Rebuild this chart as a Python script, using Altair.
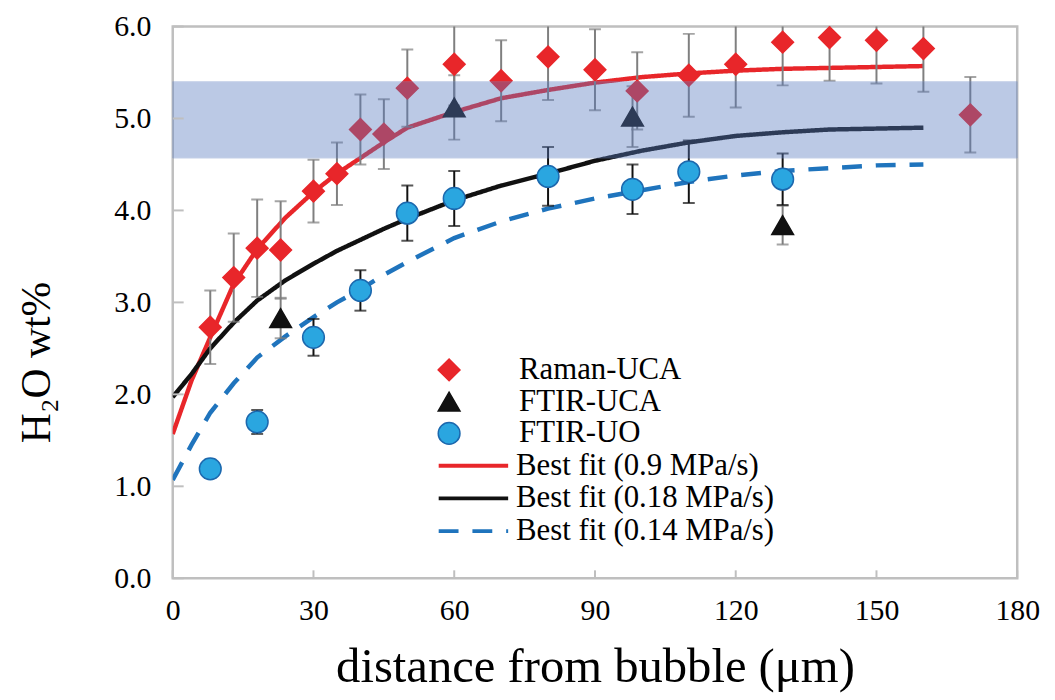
import altair as alt
import pandas as pd

# ---------------- data ----------------
raman_x = [8, 13, 18, 23, 30, 35, 40, 45, 50, 60, 70, 80, 90, 99, 110, 120, 130, 140, 150, 160, 170]
raman_y = [2.73, 3.27, 3.59, 3.57, 4.21, 4.40, 4.88, 4.83, 5.33, 5.59, 5.41, 5.67, 5.53, 5.30, 5.47, 5.59, 5.83, 5.88, 5.85, 5.76, 5.04]
raman_err = [0.40, 0.48, 0.53, 0.53, 0.34, 0.34, 0.38, 0.38, 0.42, 0.45, 0.44, 0.47, 0.44, 0.42, 0.45, 0.47, 0.47, 0.47, 0.47, 0.47, 0.41]

uca_x = [23, 60, 98, 130]
uca_y = [2.83, 5.12, 5.02, 3.84]
uca_err = [0.22, 0.35, 0.33, 0.21]

uo_x = [8, 18, 30, 40, 50, 60, 80, 98, 110, 130]
uo_y = [1.19, 1.70, 2.62, 3.13, 3.97, 4.13, 4.37, 4.23, 4.42, 4.34]
uo_err = [0.10, 0.13, 0.20, 0.22, 0.30, 0.30, 0.32, 0.27, 0.34, 0.28]

fit_x = [0, 4, 8, 13, 18, 24, 30, 35, 40, 45, 50, 60, 70, 80, 90, 100, 110, 120, 130, 140, 150, 160]
fit_red = [1.57, 2.15, 2.62, 3.20, 3.58, 3.92, 4.20, 4.40, 4.57, 4.74, 4.90, 5.07, 5.22, 5.31, 5.39, 5.45, 5.49, 5.52, 5.54, 5.55, 5.56, 5.57]
fit_black = [1.97, 2.22, 2.50, 2.78, 3.02, 3.24, 3.42, 3.56, 3.68, 3.80, 3.91, 4.11, 4.27, 4.40, 4.54, 4.65, 4.74, 4.81, 4.85, 4.88, 4.89, 4.90]
fit_blue = [1.07, 1.45, 1.80, 2.12, 2.40, 2.63, 2.84, 3.00, 3.14, 3.30, 3.44, 3.70, 3.88, 4.02, 4.13, 4.22, 4.31, 4.38, 4.43, 4.46, 4.49, 4.50]

band_lo = [4.57]
band_hi = [5.40]
band_x0 = [0]
band_x1 = [180]

pt_names = ["Raman-UCA", "FTIR-UCA", "FTIR-UO"]
fit_names = ["Best fit (0.9 MPa/s)", "Best fit (0.18 MPa/s)", "Best fit (0.14 MPa/s)"]

x_ticks = [0, 30, 60, 90, 120, 150, 180]
y_ticks = [0, 1, 2, 3, 4, 5, 6]

# ---------------- tables ----------------
pts = pd.concat([
    pd.DataFrame({"x": raman_x, "y": raman_y, "err": raman_err, "series": pt_names[0]}),
    pd.DataFrame({"x": uca_x, "y": uca_y, "err": uca_err, "series": pt_names[1]}),
    pd.DataFrame({"x": uo_x, "y": uo_y, "err": uo_err, "series": pt_names[2]}),
], ignore_index=True)
pts["lo"] = pts["y"] - pts["err"]
pts["hi"] = pts["y"] + pts["err"]
gray_err = pts[pts["series"] != "FTIR-UO"]
black_err = pts[pts["series"] == "FTIR-UO"]

fits = pd.concat([
    pd.DataFrame({"x": fit_x, "y": fit_red, "fit": fit_names[0]}),
    pd.DataFrame({"x": fit_x, "y": fit_black, "fit": fit_names[1]}),
    pd.DataFrame({"x": fit_x, "y": fit_blue, "fit": fit_names[2]}),
], ignore_index=True)

band = pd.DataFrame({"x": band_x0, "x2": band_x1, "y": band_lo, "y2": band_hi})
xt = pd.DataFrame({"x": x_ticks})
yt = pd.DataFrame({"y": y_ticks})

# ---------------- styling ----------------
FONT = "Liberation Serif"
W, H = 851, 556
GRID = "#bfbfbf"

x_scale = alt.Scale(domain=[0, 180], nice=False, zero=False)
y_scale = alt.Scale(domain=[0, 6], nice=False, zero=False)

x_axis = alt.Axis(values=x_ticks, format="d", title="distance from bubble (μm)",
                  labelFont=FONT, labelFontSize=30, labelColor="#000", labelPadding=18,
                  labelFlush=False, labelOverlap=False,
                  ticks=False, tickSize=0, domain=False, grid=False,
                  titleFont=FONT, titleFontSize=49, titleFontWeight="normal", titleColor="#000",
                  titleBaseline="alphabetic", titleY=104)
y_axis = alt.Axis(values=y_ticks, format=".1f", title="H₂O wt%",
                  labelFont=FONT, labelFontSize=30, labelColor="#000", labelPadding=22,
                  labelFlush=False, labelOverlap=False,
                  ticks=False, tickSize=0, domain=False, grid=False,
                  titleFont=FONT, titleFontSize=42, titleFontWeight="normal", titleColor="#000",
                  titleBaseline="alphabetic", titleX=-124, titleY=338, titleAngle=270)


def X(f):
    return alt.X(f"{f}:Q", scale=x_scale, axis=x_axis)


def Y(f):
    return alt.Y(f"{f}:Q", scale=y_scale, axis=y_axis)


pts_legend = alt.Legend(title=None, orient="none", legendX=263, legendY=330, direction="vertical",
                        clipHeight=32, rowPadding=0, padding=0, labelFont=FONT, labelFontSize=31,
                        labelColor="#000", labelOffset=55, labelLimit=400,
                        symbolSize=480, symbolStrokeWidth=1.5)
line_legend = alt.Legend(title=None, orient="none", legendX=266, legendY=426, direction="vertical",
                         clipHeight=33, rowPadding=0, padding=0, labelFont=FONT, labelFontSize=31,
                         labelColor="#000", labelOffset=6, labelLimit=400,
                         symbolSize=4900, symbolStrokeWidth=4, symbolType="stroke")

lines = alt.Chart(fits).mark_line(strokeWidth=4.5, clip=True).encode(
    x=X("x"), y=Y("y"),
    color=alt.Color("fit:N", scale=alt.Scale(domain=fit_names, range=["#e8262a", "#111111", "#1f74bd"]),
                    legend=line_legend),
    strokeDash=alt.StrokeDash("fit:N", scale=alt.Scale(domain=fit_names, range=[[1, 0], [1, 0], [20, 14]]),
                              legend=line_legend),
    detail="fit:N",
)

err_gray = alt.Chart(gray_err).mark_rule(color="#7f7f7f", strokeWidth=2, clip=True).encode(
    x=X("x"), y=Y("lo"), y2="hi")
cap_gray_lo = alt.Chart(gray_err).mark_tick(color="#7f7f7f", orient="horizontal", size=12, thickness=2, clip=True).encode(
    x=X("x"), y=Y("lo"))
cap_gray_hi = alt.Chart(gray_err).mark_tick(color="#7f7f7f", orient="horizontal", size=12, thickness=2, clip=True).encode(
    x=X("x"), y=Y("hi"))

err_black = alt.Chart(black_err).mark_rule(color="#111111", strokeWidth=2, clip=True).encode(
    x=X("x"), y=Y("lo"), y2="hi")
cap_black_lo = alt.Chart(black_err).mark_tick(color="#111111", orient="horizontal", size=12, thickness=2, clip=True).encode(
    x=X("x"), y=Y("lo"))
cap_black_hi = alt.Chart(black_err).mark_tick(color="#111111", orient="horizontal", size=12, thickness=2, clip=True).encode(
    x=X("x"), y=Y("hi"))

points = alt.Chart(pts).mark_point(filled=True, size=480, strokeWidth=1.5, opacity=1).encode(
    x=X("x"), y=Y("y"),
    fill=alt.Fill("series:N", scale=alt.Scale(domain=pt_names, range=["#e8262a", "#111111", "#2aa6e0"]),
                  legend=pts_legend),
    stroke=alt.Stroke("series:N", scale=alt.Scale(domain=pt_names, range=["#e8262a", "#111111", "#1c68ae"]),
                      legend=pts_legend),
    shape=alt.Shape("series:N", scale=alt.Scale(domain=pt_names, range=["diamond", "triangle-up", "circle"]),
                    legend=pts_legend),
)

band_layer = alt.Chart(band).mark_rect(color="#577ac0", opacity=0.4, stroke="#6f8cc8", strokeWidth=1).encode(
    x=X("x"), x2="x2", y=Y("y"), y2="y2")

xtick_layer = alt.Chart(xt).mark_rule(color=GRID, strokeWidth=2).encode(
    x=X("x"), y=alt.value(H), y2=alt.value(H - 8))
ytick_layer = alt.Chart(yt).mark_rule(color=GRID, strokeWidth=2).encode(
    y=Y("y"), x=alt.value(0), x2=alt.value(11))

chart = alt.layer(
    lines, err_gray, cap_gray_lo, cap_gray_hi, err_black, cap_black_lo, cap_black_hi,
    points, band_layer, xtick_layer, ytick_layer
).properties(
    width=W, height=H,
    autosize=alt.AutoSizeParams(type="none"),
    padding={"left": 166, "top": 16, "right": 30, "bottom": 120},
    background="white",
).configure(
    font=FONT
).configure_axis(
    labelFont=FONT, titleFont=FONT
).configure_legend(
    labelFont=FONT, titleFont=FONT
).configure_view(
    stroke=GRID, strokeWidth=2.5
)

chart.save("out.html", embed_options={"renderer": "svg", "actions": False})
